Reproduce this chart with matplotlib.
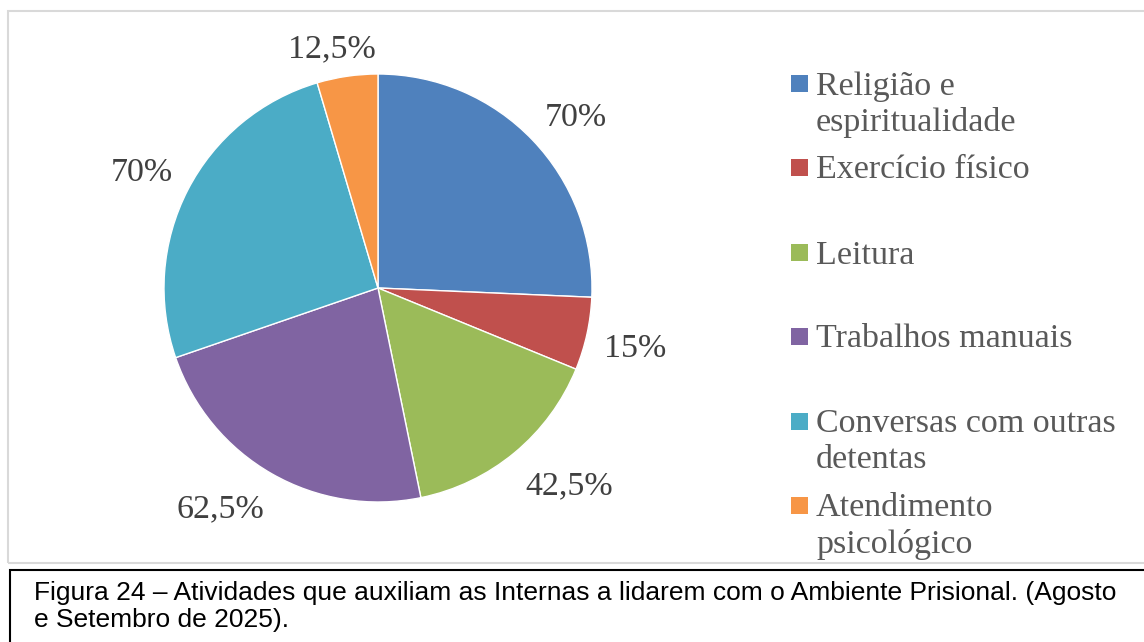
import matplotlib
matplotlib.use("Agg")
import matplotlib.pyplot as plt
from matplotlib.patches import Rectangle
import numpy as np

categories = [
    "Religião e\nespiritualidade",
    "Exercício físico",
    "Leitura",
    "Trabalhos manuais",
    "Conversas com outras\ndetentas",
    "Atendimento\npsicológico",
]
values = [70, 15, 42.5, 62.5, 70, 12.5]
value_labels = ["70%", "15%", "42,5%", "62,5%", "70%", "12,5%"]
colors = ["#4F81BD", "#C0504D", "#9BBB59", "#8064A2", "#4BACC6", "#F79646"]

W, H = 1144, 642
fig = plt.figure(figsize=(W / 100, H / 100), dpi=100)
fig.patch.set_facecolor("white")

serif = ["Liberation Serif", "DejaVu Serif"]
fs = 24.5

# pie axes: centre (378, 288) px, radius 214 px
cx, cy, r, half = 378, 288, 214, 280
ax = fig.add_axes([(cx - half) / W, (H - cy - half) / H, 2 * half / W, 2 * half / H])

wedges, _ = ax.pie(values, colors=colors, startangle=90, counterclock=False,
                   radius=1, wedgeprops=dict(linewidth=1, edgecolor="white"))
ax.set_xlim(-half / r, half / r)
ax.set_ylim(-half / r, half / r)
ax.set_aspect("equal")
ax.axis("off")

# outside-end labels: the box sits just beyond the rim, pushed out by its half size
renderer = fig.canvas.get_renderer()
for w, lab in zip(wedges, value_labels):
    mid = np.deg2rad((w.theta1 + w.theta2) / 2)
    c, s = np.cos(mid), np.sin(mid)
    t = ax.text(0, 0, lab, ha="center", va="center",
                fontsize=fs, color="#404040", family=serif)
    bb = t.get_window_extent(renderer)
    d = 1.08
    x = d * c + bb.width / 2 * np.clip(2 * c, -1, 1) / r
    y = d * s + (bb.height / 2 * np.clip(2 * s, -1, 1) - 5) / r
    t.set_position((x, y))

# legend (y = baseline of the first line, px from top)
leg_y = [93, 177, 262, 346, 431, 515]
for y, lab, col in zip(leg_y, categories, colors):
    fig.patches.append(Rectangle((791, H - y + 1), 17, 17, transform=None,
                                 facecolor=col, edgecolor="none"))
    fig.text(816 / W, 1 - (y - 22) / H, lab, ha="left", va="top",
             fontsize=fs, color="#595959", family=serif, linespacing=1.22)

# chart border
fig.patches.append(Rectangle((8, H - 563), 1150, 552, transform=None,
                             facecolor="none", edgecolor="#D9D9D9", linewidth=1.5))
# caption box
fig.patches.append(Rectangle((10, -10), 1150, H - 570 + 10, transform=None,
                             facecolor="none", edgecolor="black", linewidth=1.5))
fig.text(34 / W, 1 - 581 / H,
         "Figura 24 – Atividades que auxiliam as Internas a lidarem com o Ambiente Prisional. (Agosto\n"
         "e Setembro de 2025).",
         ha="left", va="top", fontsize=19, color="black",
         family=["Liberation Sans", "DejaVu Sans"], linespacing=1.15)

fig.savefig("out.png", dpi=100)
